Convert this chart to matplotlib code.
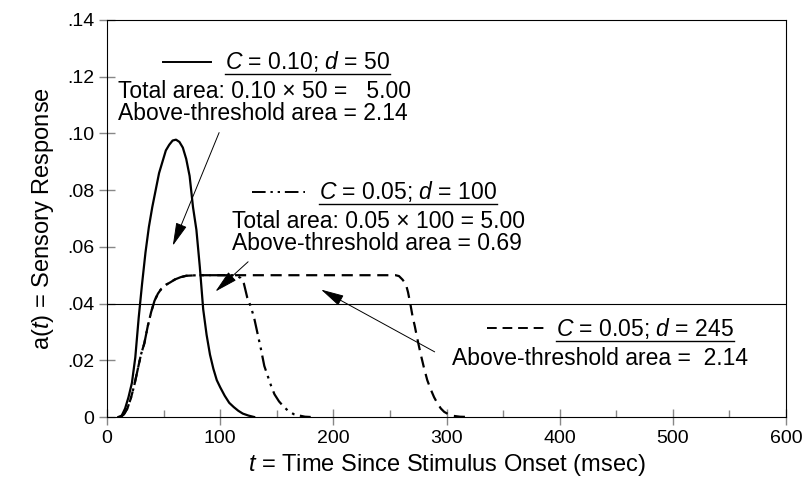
import numpy as np
import matplotlib.pyplot as plt

plt.rcParams['font.family'] = ['Liberation Sans', 'DejaVu Sans']
plt.rcParams['mathtext.fontset'] = 'custom'
plt.rcParams['mathtext.rm'] = 'Liberation Sans'
plt.rcParams['mathtext.it'] = 'Liberation Sans:italic'

# C = 0.10, d = 50 (solid)
t_solid = [10, 13, 16, 19, 22, 25, 28, 31, 34, 37, 40, 43, 46, 49, 52, 55, 58, 61,
           64, 67, 70, 73, 76, 79, 82, 85, 88, 91, 94, 97, 100, 104, 108, 112, 116,
           120, 125, 130]
a_solid = [0, .0005, .003, .007, .012, .021, .035, .047, .058, .067, .074, .080,
           .086, .090, .094, .096, .0975, .0978, .097, .095, .091, .085, .074, .066,
           .053, .038, .029, .022, .017, .013, .0105, .0075, .005, .0035, .0022,
           .0012, .0005, 0]

# C = 0.05, d = 100 (dash-dot-dot)
t_mid = [12, 15, 18, 21, 24, 27, 30, 33, 36, 39, 42, 45, 48, 52, 56, 60, 65, 70, 80,
         100, 112, 115, 118, 121, 124, 127, 130, 133, 136, 139, 142, 145, 148, 152,
         156, 160, 165, 170, 175, 180]
a_mid = [0, .001, .003, .0065, .011, .0165, .022, .026, .032, .037, .041, .0435,
         .0452, .0466, .0475, .0485, .0493, .0498, .050, .050, .050, .0498, .049,
         .047, .042, .039, .035, .0295, .024, .018, .0145, .011, .008, .0055, .0037,
         .0022, .001, .0005, .0001, 0]

# C = 0.05, d = 245 (dashed)
t_long = [12, 15, 18, 21, 24, 27, 30, 33, 36, 39, 42, 45, 48, 52, 56, 60, 65, 70, 80,
          255, 258, 261, 264, 266, 268, 270, 272, 274, 277, 280, 283, 286, 289, 292,
          295, 298, 302, 306, 312, 320]
a_long = [0, .001, .003, .0065, .011, .0165, .022, .026, .032, .037, .041, .0435,
          .0452, .0466, .0475, .0485, .0493, .0498, .050, .050, .0497, .0485, .047,
          .044, .040, .0355, .032, .028, .0225, .0175, .013, .0098, .007, .0048, .003,
          .0018, .0009, .0004, .0001, 0]

threshold = 0.04
x_ticks = [0, 100, 200, 300, 400, 500, 600]
y_ticks = [0, .02, .04, .06, .08, .10, .12, .14]
y_labels = ['0', '.02', '.04', '.06', '.08', '.10', '.12', '.14']

fig = plt.figure(figsize=(8.09, 4.86), dpi=100)
ax = fig.add_axes([107 / 809, 1 - 417 / 486, 679 / 809, 397 / 486])

dashdotdot = (0, (7, 2.5, 1.2, 2.5, 1.2, 2.5))
dashed = (0, (5, 3))
ax.plot(t_long, a_long, color='black', lw=1.6, ls=dashed)
ax.plot(t_mid, a_mid, color='black', lw=1.6, ls=dashdotdot)
ax.plot(t_solid, a_solid, color='black', lw=1.6)
ax.axhline(threshold, color='black', lw=0.8)

ax.set_xlim(0, 600)
ax.set_ylim(0, 0.14)
ax.set_xticks(x_ticks)
ax.set_xticks(np.arange(50, 600, 100), minor=True)
ax.set_yticks(y_ticks)
ax.set_yticklabels(y_labels)
ax.tick_params(which='major', direction='inout', length=12, width=1, color='#888888',
               labelsize=14, pad=3)
ax.tick_params(which='minor', axis='x', direction='in', length=5, width=1, color='#888888')
for s in ax.spines.values():
    s.set_linewidth(0.8)

ax.set_xlabel('$t$ = Time Since Stimulus Onset (msec)', fontsize=17, labelpad=4)
ax.set_ylabel('a($t$) = Sensory Response', fontsize=17, labelpad=8)

fs = 16.5
arrow = dict(arrowstyle='-|>,head_length=0.9,head_width=0.22', color='black',
             lw=0.7, mutation_scale=16)

# block 1
ax.plot([49.8, 92], [.1253, .1253], color='black', lw=1.4)
h1 = ax.text(104.4, .1253, '$C$ = 0.10; $d$ = 50', fontsize=fs, va='center')
ax.text(10, .1147, 'Total area: 0.10 × 50 =   5.00', fontsize=fs, va='center')
ax.text(10, .1071, 'Above-threshold area = 2.14', fontsize=fs, va='center')
ax.annotate('', xy=(57.2, .0595), xytext=(100, .1012), arrowprops=arrow)

# block 2
ax.plot([128, 175.2], [.0795, .0795], color='black', lw=1.4, ls=dashdotdot)
h2 = ax.text(187, .0795, '$C$ = 0.05; $d$ = 100', fontsize=fs, va='center')
ax.text(110.3, .0689, 'Total area: 0.05 × 100 = 5.00', fontsize=fs, va='center')
ax.text(110.3, .0613, 'Above-threshold area = 0.69', fontsize=fs, va='center')
ax.annotate('', xy=(94, .0436), xytext=(126.5, .0554), arrowprops=arrow)

# block 3
ax.plot([336, 390.5], [.0313, .0313], color='black', lw=1.4, ls=dashed)
h3 = ax.text(396.5, .0313, '$C$ = 0.05; $d$ = 245', fontsize=fs, va='center')
ax.text(305, .0207, 'Above-threshold area =  2.14', fontsize=fs, va='center')
ax.annotate('', xy=(187, .0454), xytext=(291.7, .0225), arrowprops=arrow)

# underline the parameter labels
fig.canvas.draw()
inv = ax.transData.inverted()
for h in (h1, h2, h3):
    bb = h.get_window_extent()
    (x0, y0), (x1, _) = inv.transform([(bb.x0, bb.y0), (bb.x1, bb.y1)])
    ax.plot([x0, x1], [y0, y0], color='black', lw=1.0)

fig.savefig('out.png', dpi=100)
